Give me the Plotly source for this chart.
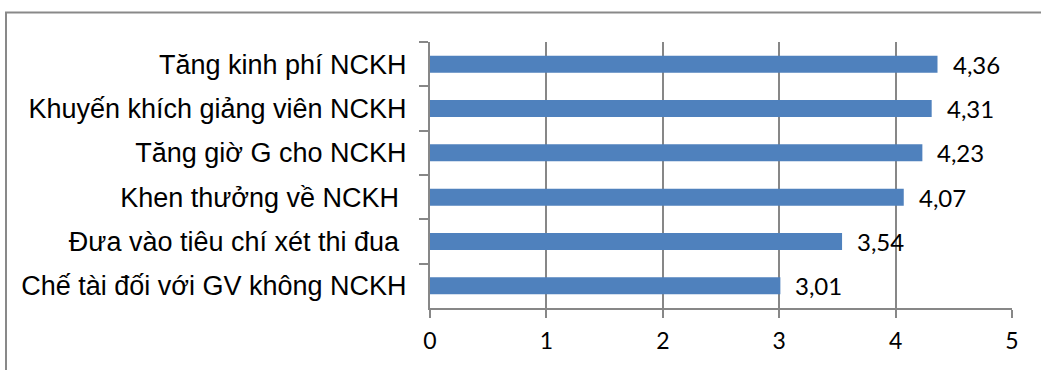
import plotly.graph_objects as go

# Survey items (top to bottom) and their mean scores
categories = [
    "Tăng kinh phí NCKH",
    "Khuyến khích giảng viên NCKH",
    "Tăng giờ G cho NCKH",
    "Khen thưởng về NCKH\u00a0",
    "Đưa vào tiêu chí xét thi đua\u00a0",
    "Chế tài đối với GV không NCKH",
]
scores = [4.36, 4.31, 4.23, 4.07, 3.54, 3.01]
x_ticks = [0, 1, 2, 3, 4, 5]

W, H = 1041, 370
L, R, T, B = 430, 29, 42, 62
GRID = "#878787"
BAR = "#4F81BD"

fig = go.Figure()
fig.add_trace(go.Bar(
    y=categories,
    x=scores,
    orientation="h",
    marker=dict(color=BAR, line=dict(width=0)),
    width=0.385,
    hoverinfo="skip",
))

# value labels with a decimal comma, placed just past each bar end
for cat, v in zip(categories, scores):
    fig.add_annotation(
        x=v, y=cat, xref="x", yref="y",
        text=f"{v:.2f}".replace(".", ","),
        showarrow=False, xanchor="left", yanchor="middle",
        xshift=13, yshift=0,
        font=dict(family="Lato", size=24, color="#000000"),
    )

# outer frame of the chart
pw, ph = W - L - R, H - T - B
fig.add_shape(
    type="rect", xref="paper", yref="paper",
    x0=(6 - L) / pw, x1=(W + 10 - L) / pw,
    y0=-(H + 10 - T - ph) / ph, y1=(T + ph - 12.5) / ph,
    line=dict(color="#898989", width=2), fillcolor="rgba(0,0,0,0)",
    layer="below",
)

fig.update_layout(
    width=W, height=H,
    margin=dict(l=L, r=R, t=T, b=B, pad=0),
    paper_bgcolor="white", plot_bgcolor="white",
    showlegend=False,
    xaxis=dict(
        range=[0, 5], tickvals=x_ticks, ticktext=[str(t) for t in x_ticks],
        showgrid=True, gridcolor=GRID, gridwidth=1.5, zeroline=False,
        showline=True, linecolor=GRID, linewidth=2,
        ticks="outside", ticklen=8, tickwidth=1.5, tickcolor=GRID,
        ticklabelstandoff=3,
        tickfont=dict(family="Lato", size=23, color="#000000"),
        fixedrange=True,
    ),
    yaxis=dict(
        categoryorder="array", categoryarray=categories,
        autorange="reversed",
        showgrid=False, zeroline=False,
        showline=True, linecolor=GRID, linewidth=2,
        ticks="outside", ticklen=9, tickwidth=1.5, tickcolor=GRID,
        tickson="boundaries",
        ticklabelstandoff=16,
        tickfont=dict(family="Liberation Sans", size=27, color="#000000"),
        fixedrange=True,
    ),
)

fig.write_html("out.html")
